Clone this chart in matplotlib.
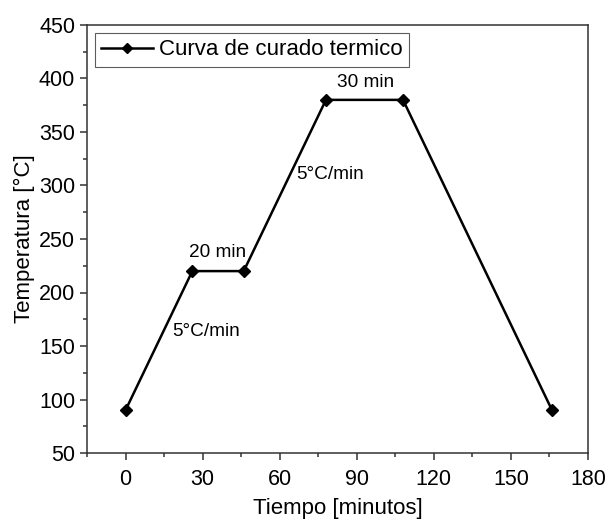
import matplotlib
matplotlib.use("Agg")
import matplotlib.pyplot as plt
from matplotlib.ticker import MultipleLocator

# perfil de curado (tiempo en minutos, temperatura en °C)
tiempo = [0, 26, 46, 78, 108, 166]
temperatura = [90, 220, 220, 380, 380, 90]

x_ticks = [0, 30, 60, 90, 120, 150, 180]
y_ticks = [50, 100, 150, 200, 250, 300, 350, 400, 450]

plt.rcParams['font.family'] = ['Liberation Sans', 'DejaVu Sans']

fig = plt.figure(figsize=(6.07, 5.2), dpi=100)
ax = fig.add_axes([0.1433, 0.1288, 0.9687 - 0.1433, 0.952 - 0.1288])

ax.plot(tiempo, temperatura, color='black', linewidth=1.8, marker='D',
        markersize=6.5, label='Curva de curado termico')

# anotaciones de las etapas
ax.text(36, 237, '20 min', fontsize=13.7, ha='center', va='center')
ax.text(93.5, 396, '30 min', fontsize=13.7, ha='center', va='center')
ax.text(66.4, 310, '5°C/min', fontsize=13.7, ha='left', va='center')
ax.text(18.3, 164, '5°C/min', fontsize=13.7, ha='left', va='center')

ax.set_xlim(-15, 180)
ax.set_ylim(50, 450)
ax.set_xticks(x_ticks)
ax.set_yticks(y_ticks)
ax.xaxis.set_minor_locator(MultipleLocator(15))
ax.yaxis.set_minor_locator(MultipleLocator(25))
ax.tick_params(which='major', direction='out', length=5, width=1.1,
               labelsize=15.5, color='#333333')
ax.tick_params(which='minor', direction='out', length=3, width=1.1, color='#333333')
ax.tick_params(axis='x', which='major', pad=6.5)
for s in ax.spines.values():
    s.set_linewidth(1.1)
    s.set_color('#333333')

ax.set_xlabel('Tiempo [minutos]', fontsize=16, labelpad=6)
ax.set_ylabel('Temperatura [°C]', fontsize=16, labelpad=3)

leg = ax.legend(loc='upper left', fontsize=16, frameon=True, fancybox=False,
                edgecolor='#333333', borderaxespad=0.35, borderpad=0.3,
                handlelength=2.3, handletextpad=0.3, markerscale=0.85)
leg.get_frame().set_linewidth(0.8)

fig.savefig('out.png', dpi=100)
